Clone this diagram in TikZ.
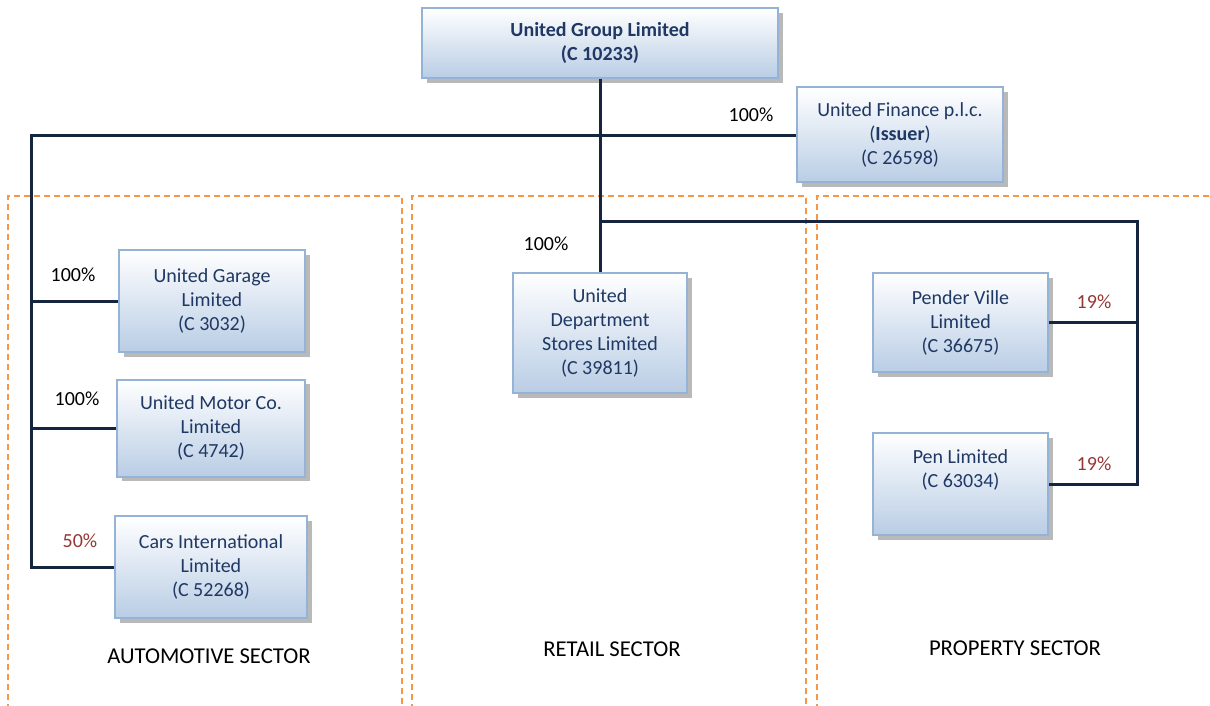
\documentclass[tikz,border=0pt]{standalone}
\usepackage{fontspec}
\setmainfont{Carlito}
\usetikzlibrary{shadows}
\definecolor{boxborder}{HTML}{95B3D7}
\definecolor{boxbottom}{HTML}{B9CDE5}
\definecolor{boxtext}{HTML}{1F3864}
\definecolor{linkcol}{HTML}{15253F}
\definecolor{dashcol}{HTML}{F79646}
\definecolor{pctred}{HTML}{953735}
\tikzset{
  orgbox/.style={draw=boxborder, line width=1.5pt, top color=white, bottom color=boxbottom,
    align=center, text=boxtext, font=\fontsize{15}{18}\selectfont, inner sep=0pt,
    drop shadow={shadow xshift=3.5pt, shadow yshift=-3.5pt, fill=gray!55, opacity=1}},
  link/.style={draw=linkcol, line width=2.25pt},
  sector/.style={draw=dashcol, line width=1.5pt, dash pattern=on 4.5pt off 3pt},
  pct/.style={font=\fontsize{15}{18}\selectfont, text=black, inner sep=0pt},
  pctr/.style={pct, text=pctred},
  seclabel/.style={font=\fontsize{17}{20}\selectfont, text=black, inner sep=0pt}
}
\begin{document}
\begin{tikzpicture}[x=0.75pt,y=-0.75pt]
\useasboundingbox (0,0) rectangle (1210,706);
\begin{scope}
\clip (0,0) rectangle (1210,706);
% sector frames
\draw[sector] (8,730) -- (8,196) -- (402,196) -- (402,730);
\draw[sector] (412,730) -- (412,196) -- (806,196) -- (806,730);
\draw[sector] (817,730) -- (817,196) -- (1230,196);
\end{scope}

% boxes
\node[orgbox, minimum width=267pt, minimum height=52.5pt] (top) at (600,43)
  {\textbf{United Group Limited}\\\textbf{(C 10233)}};
\node[orgbox, minimum width=154.5pt, minimum height=71.25pt] (fin) at (900,135)
  {United Finance p.l.c.\\(\textbf{Issuer})\\(C 26598)};
\node[orgbox, minimum width=139.5pt, minimum height=76.5pt] (garage) at (212,301)
  {United Garage\\Limited\\(C 3032)};
\node[orgbox, minimum width=141pt, minimum height=72.75pt] (motor) at (211,428)
  {United Motor Co.\\Limited\\(C 4742)};
\node[orgbox, minimum width=144pt, minimum height=76.5pt] (cars) at (211,567)
  {Cars International\\Limited\\(C 52268)};
\node[orgbox, minimum width=130.5pt, minimum height=90pt] (dept) at (600,333)
  {United\\Department\\Stores Limited\\(C 39811)};
\node[orgbox, minimum width=131.25pt, minimum height=74.25pt] (pender) at (960.5,322.5)
  {Pender Ville\\Limited\\(C 36675)};
\node[orgbox, minimum width=131.25pt, minimum height=76.5pt] (pen) at (960.5,484)
  {Pen Limited\\(C 63034)\\\strut};

% junction coordinates
\coordinate (busT) at (31,136);
\coordinate (busB) at (31,567);
\coordinate (j1) at (600,221);
\coordinate (rc) at (1137,221);

% connectors
\draw[link] (top.south) -- (dept.north);
\draw[link] (fin.west |- busT) -- (busT) -- (busB) -- (cars.west);
\draw[link] (garage.west) -- (garage.west -| busT);
\draw[link] (motor.west) -- (motor.west -| busT);
\draw[link] (j1) -- (rc) -- (rc |- pen.east) -- (pen.east);
\draw[link] (pender.east) -- (pender.east -| rc);

% percentages
\node[pct] (p1) at (751,115) {100\%};
\node[pct] (p2) at (73,275) {100\%};
\node[pct] (p3) at (77,399) {100\%};
\node[pctr] (p4) at (80,541) {50\%};
\node[pct] (p5) at (546,244) {100\%};
\node[pctr] (p6) at (1094,302) {19\%};
\node[pctr] (p7) at (1094,464) {19\%};

% sector labels
\node[seclabel] (s1) at (209,656) {AUTOMOTIVE SECTOR};
\node[seclabel] (s2) at (612,649) {RETAIL SECTOR};
\node[seclabel] (s3) at (1015,648) {PROPERTY SECTOR};
\end{tikzpicture}
\end{document}
